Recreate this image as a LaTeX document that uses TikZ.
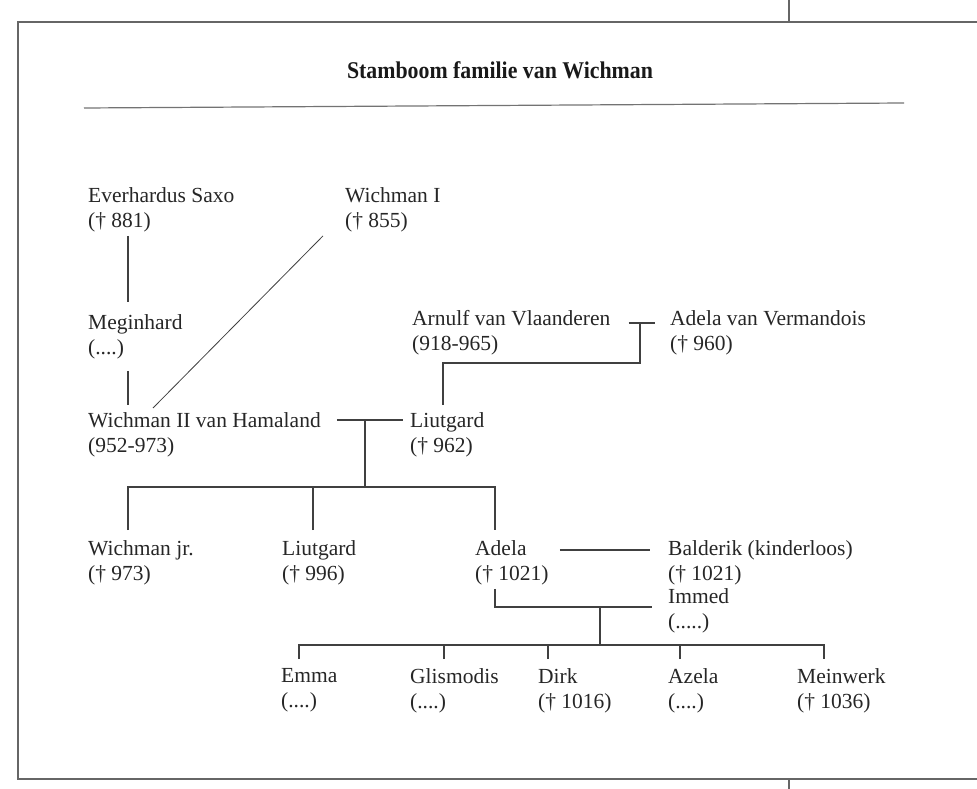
\documentclass[tikz,border=0pt]{standalone}
\usepackage{fontspec}
\setmainfont{Liberation Serif}
\usepackage{tikz}

\begin{document}
\begin{tikzpicture}[x=1pt,y=-1pt,
person/.style={anchor=north west,align=left,inner sep=0pt,text=black!85,
  font=\fontsize{21.5}{25}\selectfont},
link/.style={draw=black!75,line width=1.1pt},
frame/.style={draw=black!60,line width=1.8pt}]
\useasboundingbox (0,0) rectangle (977,789);
\draw[frame] (977,22) -- (18,22) -- (18,779) -- (977,779);
\draw[frame] (789,0) -- (789,22) (789,779) -- (789,789);
\node[text=black!90,xscale=0.91,font=\bfseries\fontsize{24}{28}\selectfont] (title) at (500,70) {Stamboom familie van Wichman};
\draw[draw=black!55,line width=1.2pt] (84,108) -- (904,103);

\node[person] (ever) at (88,187) {Everhardus Saxo\\(† 881)};
\node[person] (wich1) at (345,187) {Wichman I\\(† 855)};
\node[person] (megin) at (88,314) {Meginhard\\(....)};
\node[person] (arnulf) at (412,310) {Arnulf van Vlaanderen\\(918-965)};
\node[person] (adelav) at (670,310) {Adela van Vermandois\\(† 960)};
\node[person] (wich2) at (88,412) {Wichman II van Hamaland\\(952-973)};
\node[person] (liut1) at (410,412) {Liutgard\\(† 962)};
\node[person] (wjr) at (88,540) {Wichman jr.\\(† 973)};
\node[person] (liut2) at (282,540) {Liutgard\\(† 996)};
\node[person] (adela) at (475,540) {Adela\\(† 1021)};
\node[person] (balderik) at (668,540) {Balderik (kinderloos)\\(† 1021)};
\node[person] (immed) at (668,588) {Immed\\(.....)};
\node[person] (emma) at (281,668) {Emma\\(....)};
\node[person] (glis) at (410,668) {Glismodis\\(....)};
\node[person] (dirk) at (538,668) {Dirk\\(† 1016)};
\node[person] (azela) at (668,668) {Azela\\(....)};
\node[person] (mein) at (797,668) {Meinwerk\\(† 1036)};

\coordinate (m1) at (365,420);
\coordinate (bar1) at (365,487);
\coordinate (m2) at (640,323);
\coordinate (bend) at (443,363);
\coordinate (m3) at (600,607);
\coordinate (bar2) at (600,645);
\coordinate (wjrtop) at ([shift={(40,-10)}]wjr.north west);
\coordinate (liut2top) at ([shift={(31,-10)}]liut2.north west);
\coordinate (adelatop) at ([shift={(20,-10)}]adela.north west);
\foreach \kid/\dx in {emma/18,glis/34,dirk/10,azela/12,mein/27}
  \coordinate (\kid top) at ([shift={(\dx,-9)}]\kid.north west);

\draw[link] ([shift={(40,4)}]ever.south west) -- ([shift={(40,-12)}]megin.north west);
\draw[link] ([shift={(40,12)}]megin.south west) -- ([shift={(40,-7)}]wich2.north west);
\draw[link,line width=0.8pt] ([shift={(-22,4)}]wich1.south west) -- ([shift={(65,-4)}]wich2.north west);
\draw[link] ([shift={(16,8)}]wich2.north east) -- ([shift={(-7,8)}]liut1.north west);
\draw[link] ([shift={(18,13)}]arnulf.north east) -- ([shift={(-15,13)}]adelav.north west);
\draw[link] (m2) |- (bend) -- ([shift={(33,-7)}]liut1.north west);
\draw[link] (m1) -- (bar1);
\draw[link] (wjrtop) -- (wjrtop |- bar1) -- (adelatop |- bar1) -- (adelatop);
\draw[link] (liut2top) -- (liut2top |- bar1);
\draw[link] ([shift={(11,10)}]adela.north east) -- ([shift={(-18,10)}]balderik.north west);
\draw[link] ([shift={(20,4)}]adela.south west) |- ([shift={(-16,19)}]immed.north west);
\draw[link] (m3) -- (bar2);
\draw[link] (emmatop) -- (emmatop |- bar2) -- (meintop |- bar2) -- (meintop);
\foreach \kid in {glis,dirk,azela}
  \draw[link] (\kid top) -- (\kid top |- bar2);
\end{tikzpicture}
\end{document}
